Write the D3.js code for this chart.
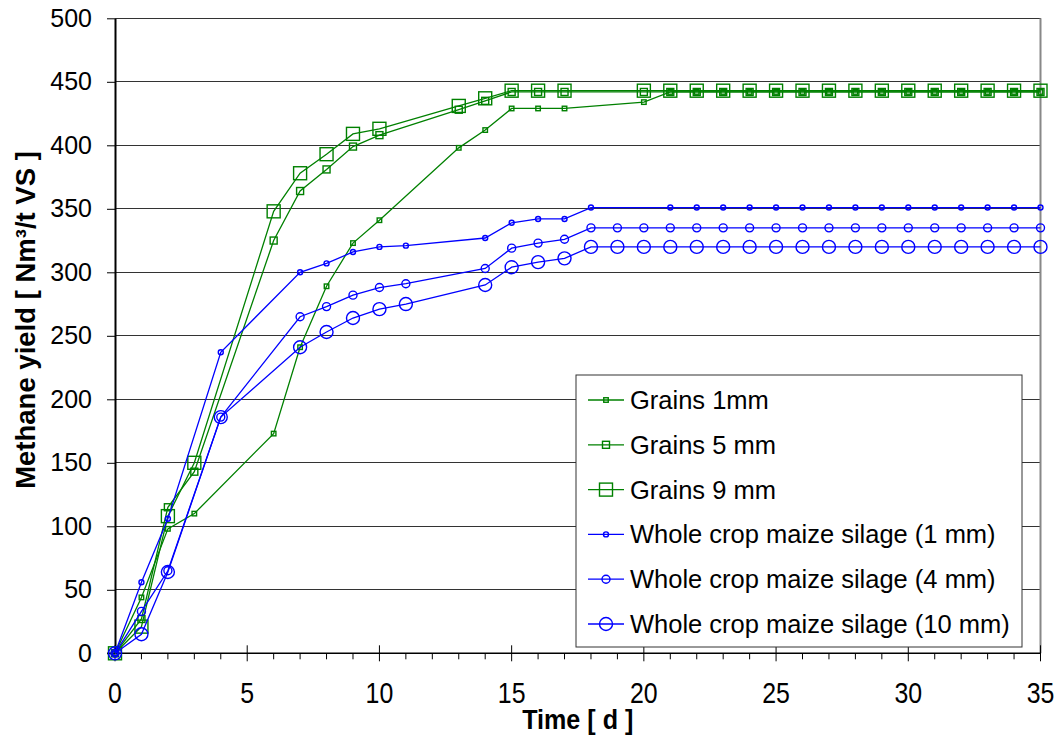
<!DOCTYPE html>
<html><head><meta charset="utf-8">
<script src="https://cdn.jsdelivr.net/npm/d3@7"></script>
<style>body{margin:0;background:#fff}svg{display:block}text{font-family:"Liberation Sans",Arial,sans-serif}</style>
</head><body><svg id="c" width="1060" height="736"></svg>
<script>
const grainDays = [0,1,2,3,6,7,8,9,10,13,14,15,16,17,20,21,22,23,24,25,26,27,28,29,30,31,32,33,34,35];
const grains1 = [0,44,98,110,173,241,289,323,341,398,412,429,429,429,434,442,442,442,442,442,442,442,442,442,442,442,442,442,442,442];
const grains5 = [0,27,115,143,325,364,381,399,408,428,435,442,442,442,442,442,442,442,442,442,442,442,442,442,442,442,442,442,442,442];
const grains9 = [0,21,108,150,348,378,393,409,413,431,437,443,443,443,443,443,443,443,443,443,443,443,443,443,443,443,443,443,443,443];
const silageDays1 = [0,1,2,4,7,8,9,10,11,14,15,16,17,18,21,22,23,24,25,26,27,28,29,30,31,32,33,34,35];
const silage1 = [0,56,106,237,300,307,316,320,321,327,339,342,342,351,351,351,351,351,351,351,351,351,351,351,351,351,351,351,351];
const silageDays = [0,1,2,4,7,8,9,10,11,14,15,16,17,18,19,20,21,22,23,24,25,26,27,28,29,30,31,32,33,34,35];
const silage4 = [0,33,65,186,265,273,282,288,291,303,319,323,326,335,335,335,335,335,335,335,335,335,335,335,335,335,335,335,335,335,335];
const silage10 = [0,15,64,186,241,253,264,271,275,290,304,308,311,320,320,320,320,320,320,320,320,320,320,320,320,320,320,320,320,320,320];
const seriesNames = ["Grains 1mm","Grains 5 mm","Grains 9 mm","Whole crop maize silage (1 mm)","Whole crop maize silage (4 mm)","Whole crop maize silage (10 mm)"];
const yTicks = [0,50,100,150,200,250,300,350,400,450,500];
const xTicks = [0,5,10,15,20,25,30,35];

const GREEN = "#008000", BLUE = "#0000ff";
const series = [
  {name: seriesNames[0], x: grainDays, y: grains1, color: GREEN, shape: "square", size: 4.5},
  {name: seriesNames[1], x: grainDays, y: grains5, color: GREEN, shape: "square", size: 7},
  {name: seriesNames[2], x: grainDays, y: grains9, color: GREEN, shape: "square", size: 13},
  {name: seriesNames[3], x: silageDays1, y: silage1, color: BLUE, shape: "circle", size: 5},
  {name: seriesNames[4], x: silageDays, y: silage4, color: BLUE, shape: "circle", size: 8},
  {name: seriesNames[5], x: silageDays, y: silage10, color: BLUE, shape: "circle", size: 13}
];

const L = 115, R = 1040.5, T = 18.3, B = 653.3;
const svg = d3.select("#c");
const x = d3.scaleLinear().domain([0,35]).range([L,R]);
const y = d3.scaleLinear().domain([0,500]).range([B,T]);

// gridlines
svg.append("g").selectAll("line").data(yTicks.filter(d=>d>0)).join("line")
  .attr("x1", L).attr("x2", R).attr("y1", d=>y(d)).attr("y2", d=>y(d))
  .attr("stroke", "#333").attr("stroke-width", 1).attr("shape-rendering","crispEdges");
// right border
svg.append("line").attr("x1", R).attr("x2", R).attr("y1", T).attr("y2", B)
  .attr("stroke", "#888").attr("stroke-width", 2);

// y axis
const yAxis = svg.append("g").attr("transform", `translate(${L},0)`)
  .call(d3.axisLeft(y).tickValues(yTicks).tickSize(8).tickPadding(15).tickSizeOuter(0));
yAxis.select(".domain").attr("stroke", "#000").attr("stroke-width", 2);
yAxis.selectAll(".tick line").attr("stroke", "#000");
yAxis.selectAll("text").attr("font-size", 25).attr("fill", "#000")
  .attr("font-family", '"Liberation Sans", Arial, sans-serif');

// x axis: minor ticks
const xMinor = d3.range(0, 36).filter(d => d % 5 !== 0);
svg.append("g").selectAll("line").data(xMinor).join("line")
  .attr("x1", d=>x(d)).attr("x2", d=>x(d)).attr("y1", B).attr("y2", B+6)
  .attr("stroke", "#000").attr("stroke-width", 1);
svg.append("g").selectAll("line").data(xTicks).join("line")
  .attr("x1", d=>x(d)).attr("x2", d=>x(d)).attr("y1", B-8).attr("y2", B+8)
  .attr("stroke", "#000").attr("stroke-width", 1);
svg.append("line").attr("x1", L-8).attr("x2", R).attr("y1", B).attr("y2", B)
  .attr("stroke", "#000").attr("stroke-width", 1.5);
svg.append("g").selectAll("text").data(xTicks).join("text")
  .attr("transform", d => `translate(${x(d)},703) scale(0.83,1)`)
  .attr("text-anchor", "middle").attr("font-size", 30).attr("fill", "#000")
  .text(d => d);

// titles
svg.append("text").attr("transform", `translate(${(L+R)/2},729) scale(0.93,1)`)
  .attr("text-anchor", "middle").attr("font-size", 27).attr("font-weight", "bold")
  .text("Time [ d ]");
svg.append("text").attr("transform", `translate(35,320) rotate(-90)`)
  .attr("text-anchor", "middle").attr("font-size", 27.5).attr("font-weight", "bold")
  .text("Methane yield [ Nm³/t VS ]");

function drawMarker(g, s, cx, cy) {
  if (s.shape === "square") {
    g.append("rect").attr("x", cx - s.size/2).attr("y", cy - s.size/2)
      .attr("width", s.size).attr("height", s.size)
      .attr("fill", "none").attr("stroke", s.color).attr("stroke-width", 1.4);
  } else {
    g.append("circle").attr("cx", cx).attr("cy", cy).attr("r", s.size/2)
      .attr("fill", "none").attr("stroke", s.color).attr("stroke-width", 1.4);
  }
}

const line = d3.line().x(d=>x(d[0])).y(d=>y(d[1]));
series.forEach(s => {
  const pts = s.x.map((d,i)=>[d, s.y[i]]);
  const g = svg.append("g");
  g.append("path").datum(pts).attr("d", line).attr("fill","none")
    .attr("stroke", s.color).attr("stroke-width", 1.3);
  pts.forEach(p => drawMarker(g, s, x(p[0]), y(p[1])));
});

// legend
const lg = svg.append("g");
lg.append("rect").attr("x", 576).attr("y", 375).attr("width", 446).attr("height", 272)
  .attr("fill", "#fff").attr("stroke", "#333").attr("stroke-width", 1);
const rowY = d3.scalePoint().domain(seriesNames).range([400, 624]);
series.forEach(s => {
  const yy = rowY(s.name);
  const g = lg.append("g");
  g.append("line").attr("x1", 588).attr("x2", 624).attr("y1", yy).attr("y2", yy)
    .attr("stroke", s.color).attr("stroke-width", 1.3);
  drawMarker(g, s, 606, yy);
  g.append("text").attr("x", 630).attr("y", yy + 9).attr("font-size", 25.5).attr("fill", "#000").text(s.name);
});
</script></body></html>
